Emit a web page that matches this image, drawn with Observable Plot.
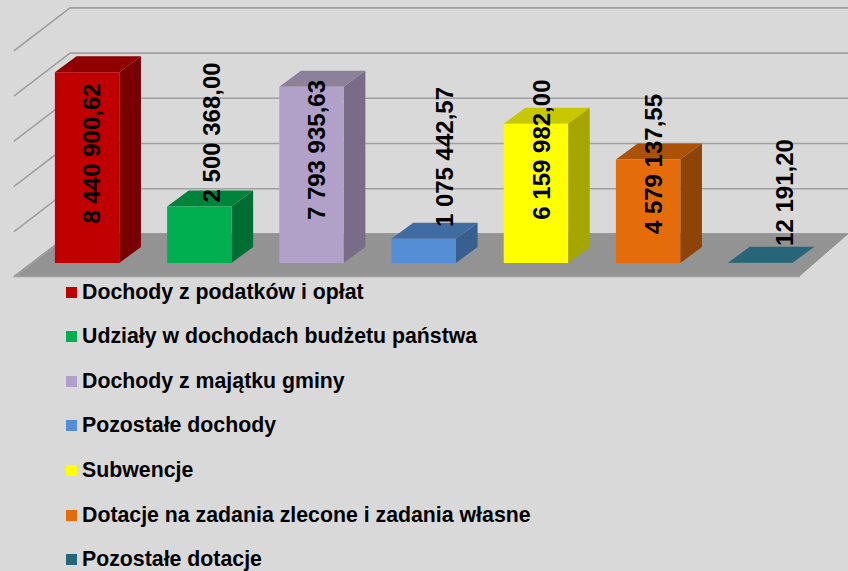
<!DOCTYPE html>
<html lang="pl">
<head>
<meta charset="utf-8">
<script src="https://cdn.jsdelivr.net/npm/d3@7"></script>
<script src="https://cdn.jsdelivr.net/npm/@observablehq/plot@0.6"></script>
<style>
  html, body { margin: 0; padding: 0; background: #d9d9d9; }
  body { width: 848px; height: 571px; overflow: hidden; font-family: "Liberation Sans", Arial, sans-serif; }
  svg { display: block; background: transparent !important; }
  #legend { margin: 0; padding: 0; }
  .row { height: 26px; margin-bottom: 18.67px; display: flex; align-items: center; font-weight: bold; font-size: 21.3px; color: #000; white-space: nowrap; }
  .sw { width: 11px; height: 11px; margin-left: 66px; margin-right: 5px; flex: none; }
</style>
</head>
<body>
<div id="chart"></div>
<div id="legend"></div>
<script>
// --- data ---
const categories = [
  "Dochody z podatków i opłat",
  "Udziały w dochodach budżetu państwa",
  "Dochody z majątku gminy",
  "Pozostałe dochody",
  "Subwencje",
  "Dotacje na zadania zlecone i zadania własne",
  "Pozostałe dotacje"
];
const values = [8440900.62, 2500368.00, 7793935.63, 1075442.57, 6159982.00, 4579137.55, 12191.20];
const frontColors = ["#c00000", "#00b050", "#b1a0c7", "#558ed5", "#ffff00", "#e46c0a", "#276678"];
const topColors   = ["#900000", "#00843c", "#8d8099", "#406ca2", "#c8c800", "#ab5108", "#276678"];
const sideColors  = ["#780000", "#006e32", "#786c87", "#385f90", "#a6a600", "#8e4406", "#276678"];
const gridValues = [0, 2e6, 4e6, 6e6, 8e6, 1e7];
// label placement, in axis units (value height of the label centre; sideways shift in slots)
const labelHeights = [4.87e6, 5.80e6, 5.02e6, 4.71e6, 5.04e6, 4.40e6, 3.14e6];
const labelShifts = [0.04, 0.11, 0.045, 0.19, 0.055, 0.055, 0.22];

// --- 3D projection in axis units ---
const barWidth = 0.574;
const barDepthX = 0.193, barDepthY = 0.71e6;
const backLift = 1.31e6, frontDrop = -0.575e6;
const floorFrontL = -0.152, floorFrontR = 6.854, floorBackL = 0.343, floorBackR = 7.29;

const fmt = v => {
  const [a, b] = v.toFixed(2).split(".");
  return a.replace(/\B(?=(\d{3})+$)/g, " ") + "," + b;
};

const bars = values.map((v, i) => ({
  i, v, name: categories[i], x1: i + 0.5 - barWidth / 2, x2: i + 0.5 + barWidth / 2,
  front: frontColors[i], top: topColors[i], side: sideColors[i]
}));

const sideRows = bars.flatMap(b => [
  {k: b.i, x: b.x2, y1: 0, y2: b.v, c: b.side},
  {k: b.i, x: b.x2 + barDepthX, y1: barDepthY, y2: b.v + barDepthY, c: b.side}
]);
const topRows = bars.flatMap(b => [
  {k: b.i, y: b.v, x1: b.x1, x2: b.x2, c: b.top},
  {k: b.i, y: b.v + barDepthY, x1: b.x1 + barDepthX, x2: b.x2 + barDepthX, c: b.top}
]);
const floorRows = [
  {y: frontDrop, x1: floorFrontL, x2: floorFrontR},
  {y: backLift, x1: floorBackL, x2: floorBackR}
];
const gridRows = gridValues.flatMap(g => [
  {g, x: floorFrontL, y: g + frontDrop},
  {g, x: floorBackL, y: g + backLift},
  {g, x: floorBackR, y: g + backLift}
]);

const plot = Plot.plot({
  width: 848,
  height: 279,
  margin: 0,
  style: {background: "transparent"},
  x: {domain: [0, 7], range: [31, 816.4], axis: null},
  y: {domain: [0, 1e7], range: [263, 37], axis: null},
  color: {type: "identity"},
  marks: [
    Plot.line(gridRows, {x: "x", y: "y", z: "g", stroke: "#a0a0a0", strokeWidth: 1.6}),
    Plot.areaX(floorRows, {y: "y", x1: "x1", x2: "x2", fill: "#939393"}),
    Plot.line(gridRows.slice(0, 2), {x: "x", y: "y", stroke: "#a0a0a0", strokeWidth: 1.6}),
    Plot.ruleY([frontDrop], {x1: floorFrontL, x2: floorFrontR, stroke: "#a0a0a0", strokeWidth: 1.6}),
    Plot.areaX(topRows, {y: "y", x1: "x1", x2: "x2", z: "k", fill: "c"}),
    Plot.areaY(sideRows, {x: "x", y1: "y1", y2: "y2", z: "k", fill: "c"}),
    Plot.rect(bars, {x1: "x1", x2: "x2", y1: 0, y2: "v", fill: "front"}),
    Plot.text(bars, {
      x: b => b.i + 0.5 + labelShifts[b.i],
      y: b => labelHeights[b.i],
      text: b => fmt(b.v),
      rotate: -90,
      textAnchor: "middle",
      lineAnchor: "middle",
      fontSize: 24,
      fontWeight: "bold",
      fontFamily: "Liberation Sans, Arial, sans-serif",
      fill: "#000"
    })
  ]
});
document.getElementById("chart").append(plot);

const legend = d3.select("#legend");
bars.forEach(b => {
  const row = legend.append("div").attr("class", "row");
  row.append("span").attr("class", "sw").style("background", b.front);
  row.append("span").text(b.name);
});
</script>
</body>
</html>
